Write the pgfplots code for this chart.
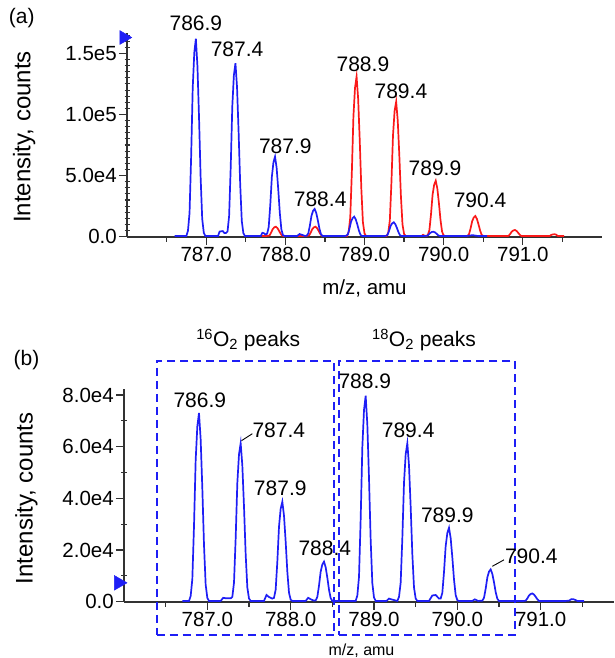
\documentclass[border=0pt]{standalone}
\usepackage{fontspec}
\setmainfont{Liberation Sans}
\usepackage{pgfplots}
\pgfplotsset{compat=1.18}
\definecolor{specblue}{RGB}{30,30,245}
\definecolor{specred}{RGB}{250,25,25}
\definecolor{axgray}{RGB}{50,50,50}
\newcommand{\tk}{\fontsize{20.5}{24}\selectfont}
\newcommand{\pk}{\fontsize{21}{25}\selectfont}
\newcommand{\yl}{\fontsize{24}{28}\selectfont}
\begin{document}
\begin{tikzpicture}
\path[use as bounding box] (0pt,0pt) rectangle (614pt,658pt);
\pgfplotsset{spec/.style={scale only axis, anchor=south west, clip=false,
  axis x line=bottom, axis y line=left,
  axis line style={axgray, line width=1.8pt, -},
  tick style={axgray, line width=1.3pt}, tick align=outside,
  major tick length=8pt, minor tick length=5pt,
  xticklabel style={font=\tk, inner sep=2pt},
  yticklabel style={font=\tk, inner sep=2pt},
  scaled y ticks=false,
  xtick={787,788,789,790,791}, xticklabels={787.0,788.0,789.0,790.0,791.0},
  minor xtick={786.5,787.5,788.5,789.5,790.5,791.5},
  extra y tick labels={},
  extra y tick style={major tick length=5pt, tick align=center, tick style={axgray, line width=1.1pt}}}}
% ---------------- panel (a)
\begin{axis}[spec, at={(127pt,421.3pt)}, width=475pt, height=203.7pt,
  xmin=786, xmax=792, ymin=0, ymax=166700,
  ytick={0,50000,100000,150000}, yticklabels={0.0,5.0e4,1.0e5,1.5e5},
  extra y ticks={5000,10000,15000,20000,25000,30000,35000,40000,45000,55000,60000,65000,70000,75000,80000,85000,90000,95000,105000,110000,115000,120000,125000,130000,135000,140000,145000,155000,160000,165000}]
\addplot[specred, line width=1.7pt] coordinates {
(787.70,600) (787.76,600) (787.78,700) (787.80,984) (787.82,3280) (787.84,6150) (787.86,7626) (787.88,8200) (787.90,7052) (787.92,4920) (787.94,2460) (787.96,738) (787.98,600)
(788.26,600) (788.28,700) (788.30,984) (788.32,3280) (788.34,6150) (788.36,7626) (788.38,8200) (788.40,7052) (788.42,4920) (788.44,2460) (788.46,738) (788.48,600)
(788.78,600) (788.80,3930) (788.82,15720) (788.84,52400) (788.86,98250) (788.88,121830) (788.90,131000) (788.92,112660) (788.94,78600) (788.96,39300) (788.98,11790) (789.00,2620) (789.02,600)
(789.28,600) (789.30,3315) (789.32,13260) (789.34,44200) (789.36,82875) (789.38,102765) (789.40,110500) (789.42,95030) (789.44,66300) (789.46,33150) (789.48,9945) (789.50,2210) (789.52,600)
(789.72,600) (789.74,1500) (789.76,800) (789.78,600) (789.80,1374) (789.82,5496) (789.84,18320) (789.86,34350) (789.88,42594) (789.90,45800) (789.92,39388) (789.94,27480) (789.96,13740) (789.98,4122) (790.00,916) (790.02,600)
(790.28,600) (790.30,700) (790.32,2028) (790.34,6760) (790.36,12675) (790.38,15717) (790.40,16900) (790.42,14534) (790.44,10140) (790.46,5070) (790.48,1521) (790.50,600)
(790.80,600) (790.82,660) (790.84,2200) (790.86,4125) (790.88,5115) (790.90,5500) (790.92,4730) (790.94,3300) (790.96,1650) (790.98,600)
(791.34,600) (791.36,1500) (791.38,1860) (791.40,2000) (791.42,1720) (791.44,600) (791.52,600)};
\addplot[specblue, line width=1.7pt] coordinates {
(786.60,600) (786.75,600) (786.77,4860) (786.79,19440) (786.81,64800) (786.83,121500) (786.85,150660) (786.87,162000) (786.89,139320) (786.91,97200) (786.93,48600) (786.95,14580) (786.97,3240) (786.99,600)
(787.15,600) (787.17,4200) (787.21,4600) (787.23,3000)
(787.25,3000) (787.27,4260) (787.29,17040) (787.31,56800) (787.33,106500) (787.35,132060) (787.37,142000) (787.39,122120) (787.41,85200) (787.43,42600) (787.45,12780) (787.47,2840) (787.49,600)
(787.69,600) (787.71,3200) (787.73,2800) (787.75,1800) (787.77,2500) (787.79,7860) (787.81,26200) (787.83,49125) (787.85,60915) (787.87,65500) (787.89,56330) (787.91,39300) (787.93,19650) (787.95,5895) (787.97,1310) (787.99,600)
(788.15,600) (788.18,2200) (788.21,1500) (788.25,600) (788.27,900) (788.29,2724) (788.31,9080) (788.33,17025) (788.35,21111) (788.37,22700) (788.39,19522) (788.41,13620) (788.43,6810) (788.45,2043) (788.47,600)
(788.75,600) (788.77,800) (788.79,1968) (788.81,6560) (788.83,12300) (788.85,15252) (788.87,16400) (788.89,14104) (788.91,9840) (788.93,4920) (788.95,1476) (788.97,600)
(789.25,600) (789.27,700) (789.29,1416) (789.31,4720) (789.33,8850) (789.35,10974) (789.37,11800) (789.39,10148) (789.41,7080) (789.43,3540) (789.45,1062) (789.47,600)
(789.75,600) (789.79,700) (789.81,1640) (789.83,3075) (789.85,3813) (789.87,4100) (789.89,3526) (789.91,2460) (789.93,1230) (789.95,600)
(790.29,600) (790.33,900) (790.35,1116) (790.37,1200) (790.39,1032) (790.41,720) (790.45,600) (790.55,600)};
\addplot[only marks, mark=triangle*, mark size=8pt, color=specblue, mark options={rotate=-90}] coordinates {(785.96,163000)};
\node[font=\pk] at (axis cs:786.87,174600) {786.9};
\node[font=\pk] at (axis cs:787.39,153300) {787.4};
\node[font=\pk] at (axis cs:788.00,73700) {787.9};
\node[font=\pk] at (axis cs:788.44,30500) {788.4};
\node[font=\pk] at (axis cs:788.98,141300) {788.9};
\node[font=\pk] at (axis cs:789.46,118700) {789.4};
\node[font=\pk] at (axis cs:789.89,55900) {789.9};
\node[font=\pk] at (axis cs:790.46,30000) {790.4};
\node[font=\yl, rotate=90] at (axis cs:784.70,81600) {Intensity, counts};
\node[font=\tk] at (axis cs:789.0,-42000) {m/z, amu};
\node[font=\pk] at (axis cs:784.67,179000) {(a)};
\end{axis}
% ---------------- panel (b)
\begin{axis}[spec, at={(124pt,56.3pt)}, width=490pt, height=212.7pt,
  xmin=786, xmax=791.88, ymin=0, ymax=82300,
  ytick={0,20000,40000,60000,80000}, yticklabels={0.0,2.0e4,4.0e4,6.0e4,8.0e4},
  extra y ticks={10000,30000,50000,70000}]
\addplot[specblue, line width=1.7pt] coordinates {
(786.70,300) (786.78,300) (786.80,2190) (786.82,8760) (786.84,29200) (786.86,54750) (786.88,67890) (786.90,73000) (786.92,62780) (786.94,43800) (786.96,21900) (786.98,6570) (787.00,1460) (787.02,300)
(787.16,300) (787.19,1500) (787.23,1300) (787.28,1300) (787.30,1839) (787.32,7356) (787.34,24520) (787.36,45975) (787.38,57009) (787.40,61300) (787.42,52718) (787.44,36780) (787.46,18390) (787.48,5517) (787.50,1226) (787.52,300)
(787.68,300) (787.71,2600) (787.74,1800) (787.78,1200) (787.80,1500) (787.82,4644) (787.84,15480) (787.86,29025) (787.88,35991) (787.90,38700) (787.92,33282) (787.94,23220) (787.96,11610) (787.98,3483) (788.00,774) (788.02,300)
(788.18,300) (788.21,1500) (788.25,800) (788.28,400) (788.30,500) (788.32,1860) (788.34,6200) (788.36,11625) (788.38,14415) (788.40,15500) (788.42,13330) (788.44,9300) (788.46,4650) (788.48,1395) (788.50,300) (788.52,300)
(788.78,300) (788.80,2391) (788.82,9564) (788.84,31880) (788.86,59775) (788.88,74121) (788.90,79700) (788.92,68542) (788.94,47820) (788.96,23910) (788.98,7173) (789.00,1594) (789.02,300)
(789.15,300) (789.18,1200) (789.22,800) (789.28,300) (789.30,1839) (789.32,7356) (789.34,24520) (789.36,45975) (789.38,57009) (789.40,61300) (789.42,52718) (789.44,36780) (789.46,18390) (789.48,5517) (789.50,1226) (789.52,300)
(789.66,300) (789.70,2400) (789.74,2600) (789.78,1200) (789.80,1200) (789.82,3432) (789.84,11440) (789.86,21450) (789.88,26598) (789.90,28600) (789.92,24596) (789.94,17160) (789.96,8580) (789.98,2574) (790.00,572) (790.02,300)
(790.18,300) (790.21,900) (790.25,300) (790.30,400) (790.32,1500) (790.34,5000) (790.36,9375) (790.38,11625) (790.40,12500) (790.42,10750) (790.44,7500) (790.46,3750) (790.48,1125) (790.50,300)
(790.80,300) (790.82,384) (790.84,1280) (790.86,2400) (790.88,2976) (790.90,3200) (790.92,2752) (790.94,1920) (790.96,960) (790.98,300)
(791.30,300) (791.34,400) (791.37,1000) (791.40,900) (791.44,300) (791.52,300)};
\addplot[specblue, line width=2pt, dash pattern=on 8pt off 5pt] coordinates {(786.39,-13000) (788.52,-13000) (788.52,93300) (786.39,93300) (786.39,-13000)};
\addplot[specblue, line width=2pt, dash pattern=on 8pt off 5pt] coordinates {(788.58,-13000) (790.69,-13000) (790.69,93300) (788.58,93300) (788.58,-13000)};
\addplot[only marks, mark=triangle*, mark size=8.5pt, color=specblue, mark options={rotate=-90}] coordinates {(785.935,7300)};
\addplot[black, line width=0.9pt] coordinates {(787.41,62300) (787.54,65000)};
\addplot[black, line width=0.9pt] coordinates {(790.42,13700) (790.56,16200)};
\node[font=\pk] at (axis cs:786.91,78100) {786.9};
\node[font=\pk, anchor=west, inner sep=0pt] at (axis cs:787.54,66200) {787.4};
\node[font=\pk] at (axis cs:787.875,43900) {787.9};
\node[font=\pk] at (axis cs:788.41,20600) {788.4};
\node[font=\pk] at (axis cs:788.89,85200) {788.9};
\node[font=\pk] at (axis cs:789.41,66200) {789.4};
\node[font=\pk] at (axis cs:789.88,33500) {789.9};
\node[font=\pk, anchor=west, inner sep=0pt] at (axis cs:790.57,17400) {790.4};
\node[font=\pk] at (axis cs:787.49,101300) {\textsuperscript{16}O\textsubscript{2} peaks};
\node[font=\pk] at (axis cs:789.60,101300) {\textsuperscript{18}O\textsubscript{2} peaks};
\node[font=\yl, rotate=90] at (axis cs:784.83,40000) {Intensity, counts};
\node[font=\fontsize{16}{19}\selectfont] at (axis cs:788.85,-18800) {m/z, amu};
\node[font=\pk] at (axis cs:784.83,93600) {(b)};
\end{axis}
\end{tikzpicture}
\end{document}
